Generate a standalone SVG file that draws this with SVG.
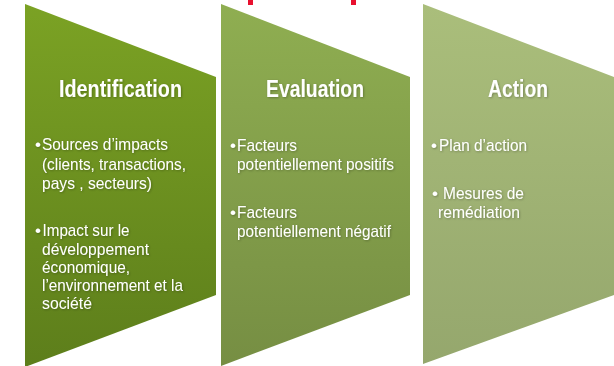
<svg xmlns="http://www.w3.org/2000/svg" width="614" height="366" viewBox="0 0 614 366">
  <defs>
    <linearGradient id="g1" x1="0" y1="0" x2="0" y2="1">
      <stop offset="0" stop-color="#7ba224"/>
      <stop offset="1" stop-color="#5d7e1b"/>
    </linearGradient>
    <linearGradient id="g2" x1="0" y1="0" x2="0" y2="1">
      <stop offset="0" stop-color="#8fae51"/>
      <stop offset="1" stop-color="#768e43"/>
    </linearGradient>
    <linearGradient id="g3" x1="0" y1="0" x2="0" y2="1">
      <stop offset="0" stop-color="#aabe7b"/>
      <stop offset="1" stop-color="#95a76d"/>
    </linearGradient>
    <filter id="shadow" x="-10%" y="-30%" width="120%" height="160%">
      <feDropShadow dx="0.8" dy="0.8" stdDeviation="0.8" flood-color="#000" flood-opacity="0.3"/>
    </filter>
  </defs>
  <style>
    text { font-family: "Liberation Sans", Arial, sans-serif; fill: #ffffff; filter: url(#shadow); }
    .title { font-size: 23px; font-weight: bold; text-anchor: middle; }
    .body { font-size: 17px; }
    .mark { fill: #e8102e; }
  </style>

  <!-- fragments of a heading cut off at the top edge -->
  <rect class="mark" x="248" y="0" width="5" height="5"/>
  <rect class="mark" x="351" y="0" width="5" height="5"/>

  <g id="identification">
    <polygon points="25,4 216,77 216,295 25,367" fill="url(#g1)"/>
    <text class="title" x="120.5" y="96.5" textLength="123" lengthAdjust="spacingAndGlyphs">Identification</text>
    <text class="body" x="35" y="150">•</text>
    <text class="body" x="42" y="150" textLength="126" lengthAdjust="spacingAndGlyphs">Sources d’impacts</text>
    <text class="body" x="42" y="169.5" textLength="144" lengthAdjust="spacingAndGlyphs">(clients, transactions,</text>
    <text class="body" x="42" y="189" textLength="110" lengthAdjust="spacingAndGlyphs">pays , secteurs)</text>
    <text class="body" x="35" y="236">•</text>
    <text class="body" x="42.5" y="236" textLength="87" lengthAdjust="spacingAndGlyphs">Impact sur le</text>
    <text class="body" x="42" y="254.5" textLength="107" lengthAdjust="spacingAndGlyphs">développement</text>
    <text class="body" x="42" y="272.5" textLength="88" lengthAdjust="spacingAndGlyphs">économique,</text>
    <text class="body" x="42" y="291" textLength="141" lengthAdjust="spacingAndGlyphs">l’environnement et la</text>
    <text class="body" x="42" y="309" textLength="50" lengthAdjust="spacingAndGlyphs">société</text>
  </g>

  <g id="evaluation">
    <polygon points="221,4 410,77 410,295 221,366" fill="url(#g2)"/>
    <text class="title" x="315" y="96.5" textLength="98" lengthAdjust="spacingAndGlyphs">Evaluation</text>
    <text class="body" x="230" y="150.5">•</text>
    <text class="body" x="237" y="150.5" textLength="60" lengthAdjust="spacingAndGlyphs">Facteurs</text>
    <text class="body" x="237" y="170" textLength="157" lengthAdjust="spacingAndGlyphs">potentiellement positifs</text>
    <text class="body" x="230" y="217.5">•</text>
    <text class="body" x="237" y="217.5" textLength="60" lengthAdjust="spacingAndGlyphs">Facteurs</text>
    <text class="body" x="237" y="237" textLength="154" lengthAdjust="spacingAndGlyphs">potentiellement négatif</text>
  </g>

  <g id="action">
    <polygon points="423,4 614,77 614,295 423,364" fill="url(#g3)"/>
    <text class="title" x="518" y="96.5" textLength="60" lengthAdjust="spacingAndGlyphs">Action</text>
    <text class="body" x="431" y="151">•</text>
    <text class="body" x="439" y="151" textLength="88" lengthAdjust="spacingAndGlyphs">Plan d’action</text>
    <text class="body" x="432" y="198.5">•</text>
    <text class="body" x="443" y="198.5" textLength="81" lengthAdjust="spacingAndGlyphs">Mesures de</text>
    <text class="body" x="438" y="217.5" textLength="82" lengthAdjust="spacingAndGlyphs">remédiation</text>
  </g>
</svg>
